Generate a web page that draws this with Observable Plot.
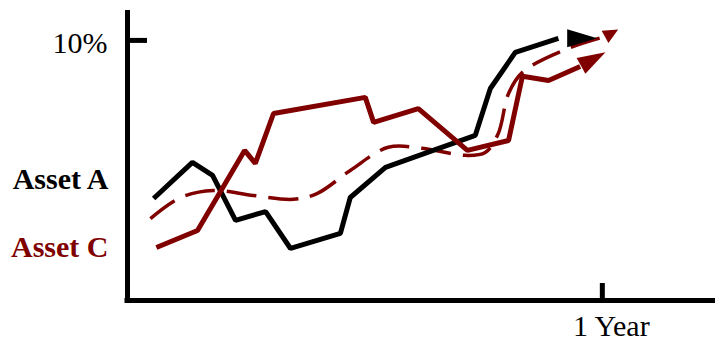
<!DOCTYPE html>
<html>
<head>
<meta charset="utf-8">
<script src="https://cdn.jsdelivr.net/npm/d3@7"></script>
<script src="https://cdn.jsdelivr.net/npm/@observablehq/plot@0.6"></script>
<style>
  html, body { margin: 0; padding: 0; background: #fff; }
</style>
</head>
<body>
<div id="chart"></div>
<script>
// ---- Data (x in months, y in %) ----
const assetAMonths = [0.66, 1.64, 2.15, 2.73, 3.49, 4.12, 5.38, 5.63, 6.52, 8.79, 9.17, 9.80, 10.89, 11.87];
const assetAValues = [3.92, 5.31, 4.81, 3.08, 3.42, 2.00, 2.58, 3.96, 5.12, 6.35, 8.15, 9.54, 10.08, 10.08];

const assetCMonths = [0.73, 1.77, 2.96, 3.23, 3.69, 6.01, 6.22, 7.35, 8.59, 9.63, 9.98, 10.64, 11.44, 12.08];
const assetCValues = [2.04, 2.69, 5.77, 5.27, 7.19, 7.81, 6.85, 7.38, 5.77, 6.15, 8.62, 8.46, 9.00, 9.54];

const trendMonths = [0.58, 1.34, 2.17, 3.18, 4.19, 4.80, 5.63, 6.59, 7.45, 8.54, 9.04, 9.37, 9.63, 9.98, 11.14, 12.08, 12.40];
const trendValues = [3.15, 3.96, 4.23, 4.04, 3.89, 4.12, 5.00, 5.89, 5.85, 5.58, 5.69, 6.42, 7.96, 8.77, 9.69, 10.15, 10.42];

const seriesLabels = ["Asset A", "Asset C"];
const seriesLabelValues = [4.64, 2.06];

const yTickValues = [10];
const yTickLabels = ["10%"];
const xTickValues = [12];
const xTickLabels = ["1 Year"];

// ---- Layout ----
const W = 715, H = 342, ML = 127, MR = 0, MT = 10, MB = 42;
const X_MAX = 14.86, Y_MAX = 11.15;
const kx = (W - ML - MR) / X_MAX;
const ky = (H - MT - MB) / Y_MAX;
const DARK_RED = "#800000";

const pts = (ms, vs) => ms.map((m, i) => ({m, v: vs[i]}));
const A = pts(assetAMonths, assetAValues);
const C = pts(assetCMonths, assetCValues);
const T = pts(trendMonths, trendValues);
const labels = seriesLabels.map((name, i) => ({name, v: seriesLabelValues[i]}));

function arrowHead(len, half) {
  return {
    draw(ctx) {
      ctx.moveTo(0, 0);
      ctx.lineTo(-len, -half);
      ctx.lineTo(-len, half);
      ctx.closePath();
    }
  };
}
function angleOf(series) {
  const a = series[series.length - 2], b = series[series.length - 1];
  return Math.atan2(-(b.v - a.v) * ky, (b.m - a.m) * kx) * 180 / Math.PI;
}

const font = '"Liberation Serif", "Times New Roman", serif';

const chart = Plot.plot({
  width: W,
  height: H,
  marginLeft: ML,
  marginRight: MR,
  marginTop: MT,
  marginBottom: MB,
  style: {fontFamily: font, color: "black", background: "white", overflow: "visible"},
  x: {domain: [0, X_MAX], axis: null},
  y: {domain: [0, Y_MAX], axis: null},
  marks: [
    // axes lines
    Plot.ruleX([0], {stroke: "black", strokeWidth: 5}),
    Plot.ruleY([0], {stroke: "black", strokeWidth: 5, insetLeft: -2.5}),
    // ticks (inward)
    Plot.axisY({ticks: yTickValues, tickSize: -20, strokeWidth: 5, tickFormat: () => "", label: null}),
    Plot.axisX({ticks: xTickValues, tickSize: -17, strokeWidth: 5, tickFormat: () => "", label: null}),
    // tick labels
    Plot.axisY({ticks: yTickValues, tickSize: 0, tickPadding: 20, dy: 2.5, fontSize: 30, fontFamily: font,
      tickFormat: (d) => yTickLabels[yTickValues.indexOf(d)], label: null}),
    Plot.axisX({ticks: xTickValues, tickSize: 0, tickPadding: 14.5, dx: 9, fontSize: 30, fontFamily: font,
      tickFormat: (d) => xTickLabels[xTickValues.indexOf(d)], label: null}),
    // series labels
    Plot.text(labels, {frameAnchor: "left", y: "v", text: "name", dx: -19, textAnchor: "end",
      fontSize: 30, fontWeight: "bold", fontFamily: font,
      fill: (d) => d.name === "Asset A" ? "black" : DARK_RED}),
    // dashed trend
    Plot.line(T.slice(0, -1), {x: "m", y: "v", stroke: DARK_RED, strokeWidth: 3.5,
      strokeDasharray: "30,12", curve: "catmull-rom", strokeLinecap: "butt"}),
    Plot.dot(T.slice(-1), {x: "m", y: "v", symbol: arrowHead(15, 7), rotate: angleOf(T),
      fill: DARK_RED, stroke: "none"}),
    // Asset A
    Plot.line(A.slice(0, -1), {x: "m", y: "v", stroke: "black", strokeWidth: 5,
      strokeLinejoin: "miter", strokeLinecap: "butt"}),
    Plot.dot(A.slice(-1), {x: "m", y: "v", symbol: arrowHead(30, 9), rotate: angleOf(A),
      fill: "black", stroke: "none"}),
    // Asset C
    Plot.line(C.slice(0, -1), {x: "m", y: "v", stroke: DARK_RED, strokeWidth: 5,
      strokeLinejoin: "miter", strokeLinecap: "butt"}),
    Plot.dot(C.slice(-1), {x: "m", y: "v", symbol: arrowHead(28, 9), rotate: angleOf(C),
      fill: DARK_RED, stroke: "none"})
  ]
});

document.getElementById("chart").appendChild(chart);
</script>
</body>
</html>
